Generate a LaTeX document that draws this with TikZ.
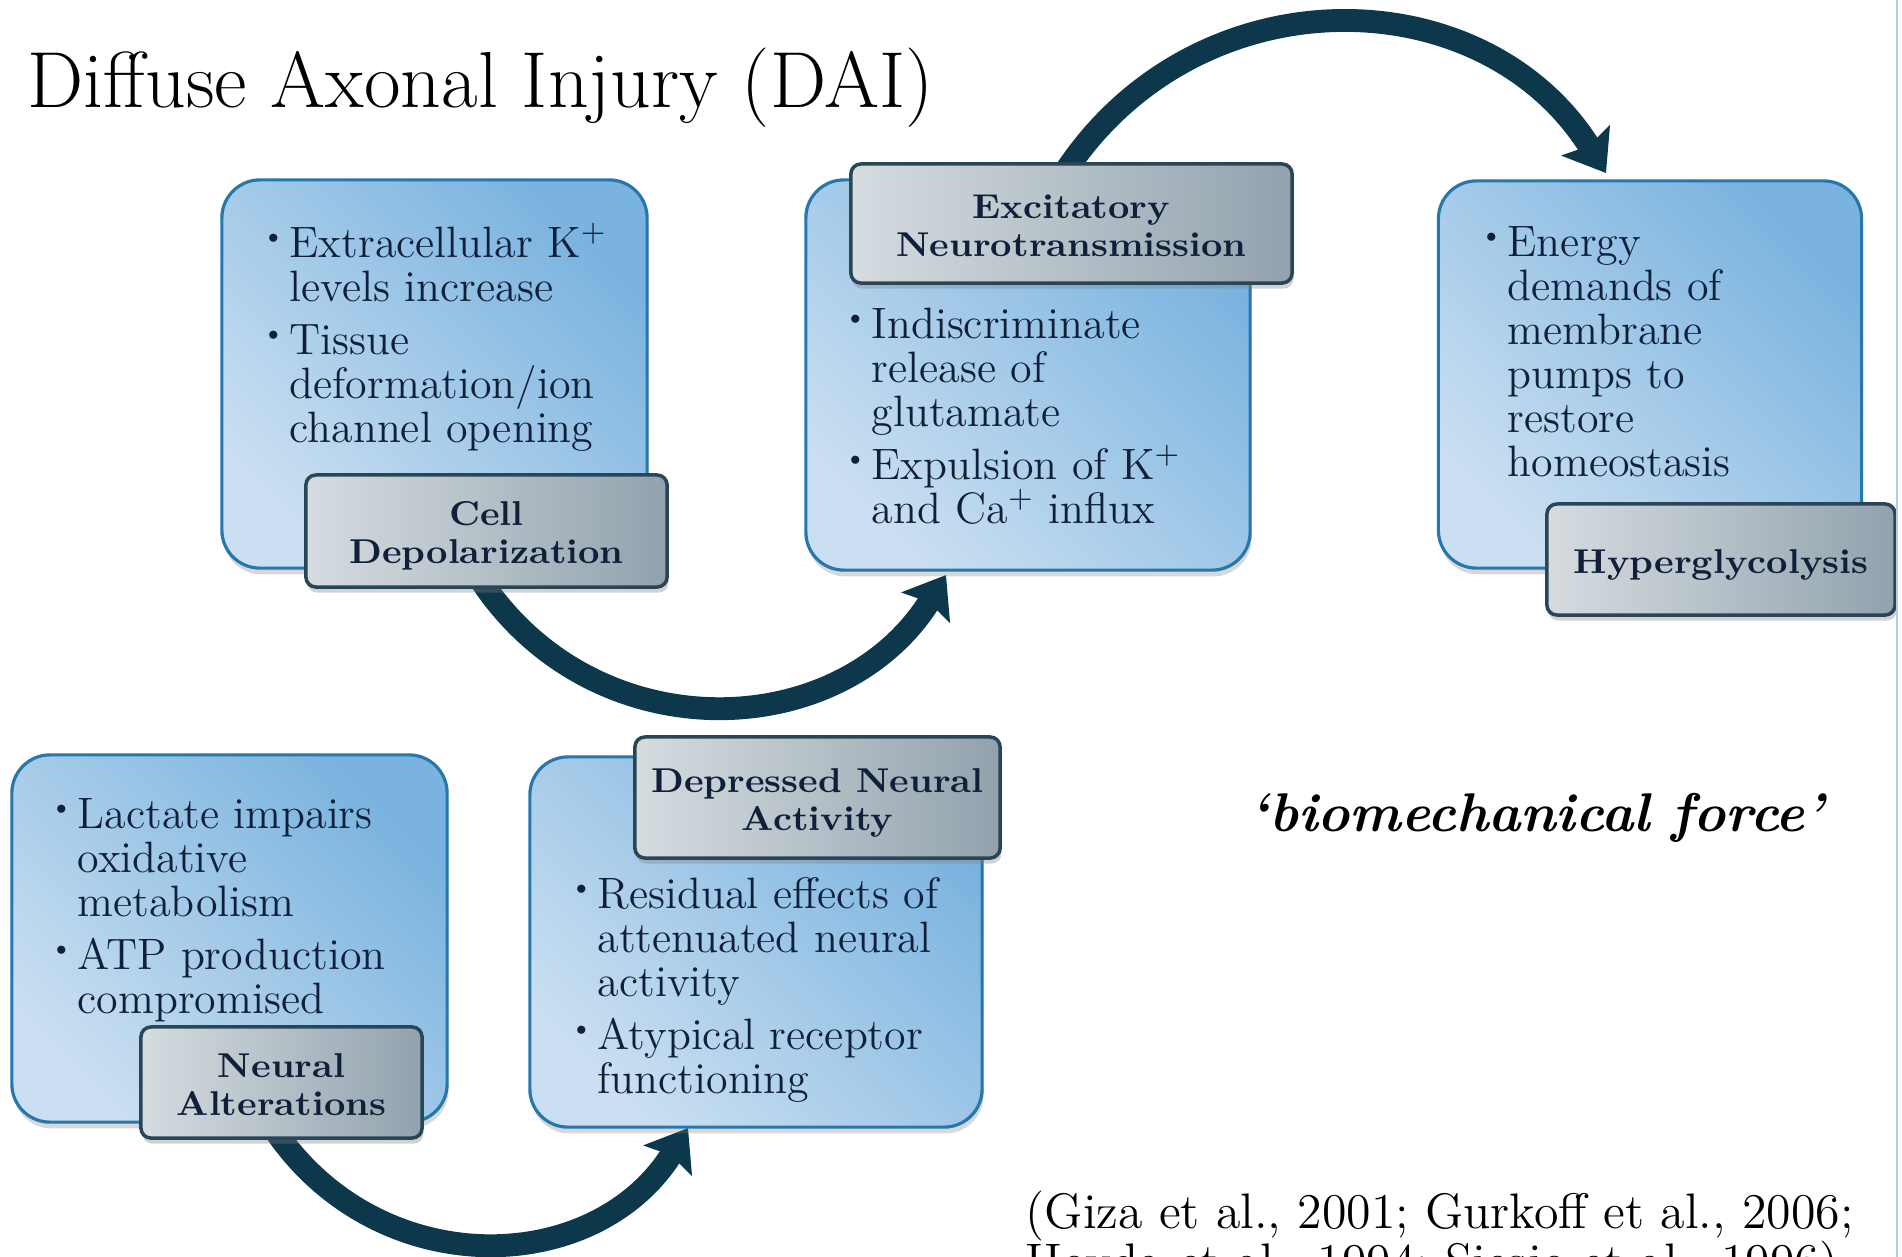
\documentclass[tikz,border=0pt]{standalone}
\usepackage{graphicx}
\usetikzlibrary{arrows.meta,shadows,backgrounds}
\definecolor{bluelight}{RGB}{202,223,241}
\definecolor{bluedark}{RGB}{122,179,223}
\definecolor{boxedge}{RGB}{38,120,172}
\definecolor{graylight}{RGB}{214,220,224}
\definecolor{graydark}{RGB}{146,162,173}
\definecolor{labedge}{RGB}{40,70,88}
\definecolor{txt}{RGB}{16,32,58}
\definecolor{arrowc}{RGB}{13,55,75}
\definecolor{edgec}{RGB}{182,204,224}
\newcommand{\mybul}{\leavevmode\llap{\raisebox{0.135cm}{\scalebox{0.5}{$\bullet$}}\hspace{0.11cm}}}
\newcommand{\mylbl}[1]{\raisebox{-0.06cm}[\height][\depth]{\scalebox{1.08}[1]{\begin{tabular}{@{}c@{}}#1\end{tabular}}}}
\newcommand{\mylabfont}{\fontsize{9.8pt}{10.8pt}\selectfont\bfseries}
\tikzset{
  bluebox/.style={draw=boxedge, line width=0.9pt, rounded corners=0.38cm, inner sep=0pt,
    top color=bluedark, bottom color=bluelight, shading angle=-45,
    drop shadow={shadow xshift=0.4pt, shadow yshift=-1.8pt, opacity=0.3}},
  labelbox/.style={draw=labedge, line width=1pt, rounded corners=0.1cm, inner sep=0pt,
    left color=graylight, right color=graydark, text=txt, font=\mylabfont,
    drop shadow={shadow xshift=0.4pt, shadow yshift=-1.6pt, opacity=0.35}},
  bodytext/.style={anchor=base west, inner sep=0pt, text=txt,
    font=\fontsize{12.5pt}{0.44cm}\selectfont},
  bigarrow/.style={draw=arrowc, line width=6.5pt, shorten <=-0.08cm,
    -{Stealth[length=0.38cm, width=0.56cm, inset=0.06cm]}},
  edgeline/.style={draw=edgec, line width=0.6pt}
}
\begin{document}
\begin{tikzpicture}[x=0.01cm, y=0.01cm]
\useasboundingbox (0,0) rectangle (1902,-1257);

% blue content boxes
\node[bluebox, minimum width=4.25cm, minimum height=3.88cm] (b1) at (434.5,-374) {};
\node[bluebox, minimum width=4.44cm, minimum height=3.90cm] (b2) at (1028,-375) {};
\node[bluebox, minimum width=4.23cm, minimum height=3.87cm] (b3) at (1650,-374.5) {};
\node[bluebox, minimum width=4.35cm, minimum height=3.67cm] (b4) at (229.5,-938.5) {};
\node[bluebox, minimum width=4.52cm, minimum height=3.70cm] (b5) at (756,-942) {};

% body texts
\node[bodytext] (t1) at (289,-257) {\parbox[t]{4cm}{\raggedright
  \mybul Extracellular K\textsuperscript{+}\\ levels increase\\[0.09cm]
  \mybul Tissue\\ deformation/ion\\ channel opening}};
\node[bodytext] (t2) at (871,-338) {\parbox[t]{4cm}{\raggedright
  \mybul Indiscriminate\\ release of\\ glutamate\\[0.09cm]
  \mybul Expulsion of K\textsuperscript{+}\\ and Ca\textsuperscript{+} influx}};
\node[bodytext] (t3) at (1507,-256) {\parbox[t]{3.4cm}{\raggedright
  \mybul Energy\\ demands of\\ membrane\\ pumps to\\ restore\\ homeostasis}};
\node[bodytext] (t4) at (77,-828) {\parbox[t]{3.8cm}{\raggedright
  \mybul Lactate impairs\\ oxidative\\ metabolism\\[0.09cm]
  \mybul ATP production\\ compromised}};
\node[bodytext] (t5) at (597,-908) {\parbox[t]{3.8cm}{\raggedright
  \mybul Residual effects of\\ attenuated neural\\ activity\\[0.09cm]
  \mybul Atypical receptor\\ functioning}};

% gray labels
\node[labelbox, minimum width=3.61cm, minimum height=1.12cm] (l1) at (486.5,-531) {\mylbl{Cell\\Depolarization}};
\node[labelbox, minimum width=4.41cm, minimum height=1.19cm] (l2) at (1071.5,-223.5) {\mylbl{Excitatory\\Neurotransmission}};
\node[labelbox, minimum width=3.48cm, minimum height=1.11cm] (l3) at (1721,-559.5) {\mylbl{Hyperglycolysis}};
\node[labelbox, minimum width=2.81cm, minimum height=1.11cm] (l4) at (281.5,-1082.5) {\mylbl{Neural\\Alterations}};
\node[labelbox, minimum width=3.65cm, minimum height=1.21cm] (l5) at (817.5,-797.5) {\mylbl{Depressed Neural\\Activity}};

% free texts
\node[anchor=base west, inner sep=0pt, font=\fontsize{22.6pt}{26pt}\selectfont] (title) at (27,-107) {Diffuse Axonal Injury (DAI)};
\node[anchor=base, inner sep=0pt, font=\fontsize{15.5pt}{18pt}\selectfont\bfseries\itshape] (bio) at (1537,-831) {`biomechanical force'};
\node[anchor=base west, inner sep=0pt, font=\fontsize{14.2pt}{0.5cm}\selectfont] (cite) at (1025,-1228)
  {\parbox[t]{9.5cm}{\raggedright (Giza et al., 2001; Gurkoff et al., 2006;\\ Hovda et al., 1994; Siesjo et al., 1996)}};

% arrow end points and the page edge line
\coordinate (a1end) at (946,-575);
\coordinate (a2end) at (1606,-173);
\coordinate (a3end) at (688,-1128);
\coordinate (edgetop) at (1897,0);
\coordinate (edgebot) at (1897,-1257);
\draw[edgeline] (edgetop) -- (edgebot);

\begin{pgfonlayer}{background}
\fill[white] (0,0) rectangle (1902,-1257);
\draw[bigarrow] (l1.south) to[out=-56, in=-122, looseness=1.1] (a1end);
\draw[bigarrow] (l2.north) to[out=56, in=122, looseness=1.1] (a2end);
\draw[bigarrow] (l4.south) to[out=-55, in=-122, looseness=1.1] (a3end);
\end{pgfonlayer}
\end{tikzpicture}
\end{document}
